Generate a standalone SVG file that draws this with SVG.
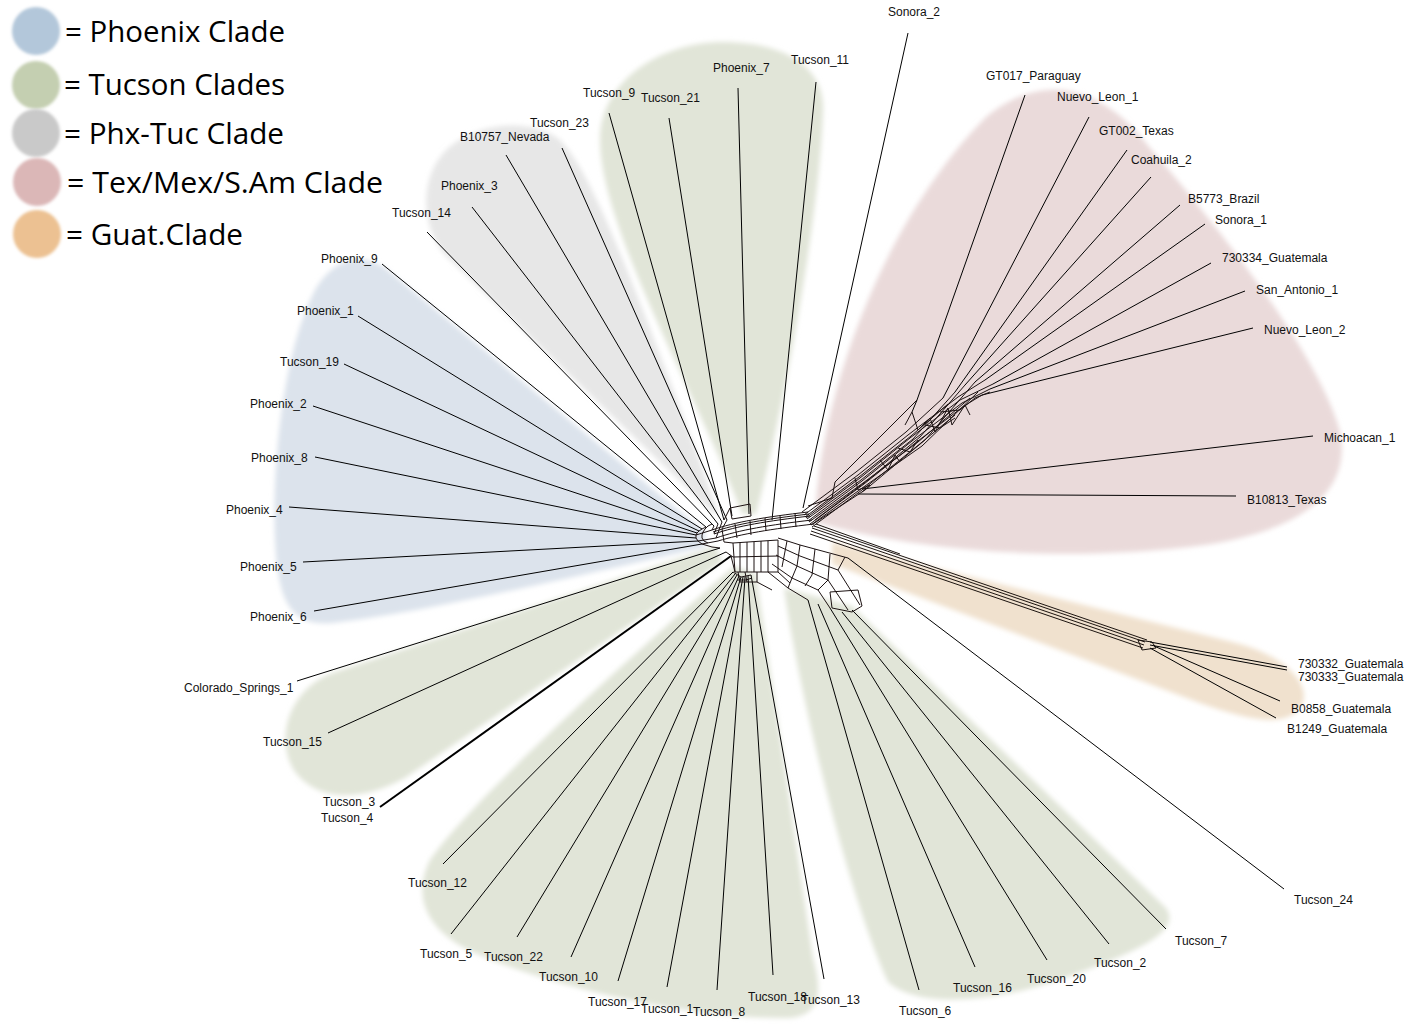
<svg xmlns="http://www.w3.org/2000/svg" width="1424" height="1024" viewBox="0 0 1424 1024">
<defs>
<filter id="soft" x="-10%" y="-10%" width="120%" height="120%"><feGaussianBlur stdDeviation="2.5"/></filter>
<filter id="softc" x="-20%" y="-20%" width="140%" height="140%"><feGaussianBlur stdDeviation="1.5"/></filter>
<style>
.lbl{font-family:"Liberation Sans",Arial,sans-serif;font-size:12px;fill:#111}
.leg{font-family:"Open Sans","Noto Sans",sans-serif;font-size:29px;fill:#000}
.leaf{stroke:#000;stroke-width:1;fill:none}
.net{stroke:#1c1212;stroke-width:1;fill:none}
.gua{stroke:#1c1410;stroke-width:1;fill:none}
</style>
</defs>
<rect width="1424" height="1024" fill="#fff"/>

<g id="clades" filter="url(#soft)">
<path id="blob-phx-tuc" fill="#e7e7e7" d="M715,515 L445,255 C418,222 420,170 452,145 C482,122 532,118 560,140 C588,168 625,255 718,512 Z"/>
<path id="blob-tucson-top" fill="#e1e5d8" d="M742,514 C705,410 600,230 600,140 C600,80 662,42 722,42 C792,42 826,72 823,112 C820,210 786,400 756,514 Z"/>
<path id="blob-phoenix" fill="#dce3ec" d="M705,532 L385,268 C358,250 330,262 314,292 C282,355 272,470 275,540 C278,605 292,626 332,623 C410,615 560,580 705,547 Z"/>
<path id="blob-tex" fill="#eadada" d="M815,522 C818,410 875,230 985,118 C1045,68 1105,88 1150,148 C1230,240 1322,362 1340,432 C1352,492 1302,530 1205,545 C1050,565 905,548 815,522 Z"/>
<path id="blob-guat" fill="#f0e1ce" d="M832,542 L1232,642 C1298,658 1320,698 1292,715 C1272,726 1240,717 1200,703 L832,564 Z"/>
<path id="blob-tucson-left" fill="#e1e5d8" d="M716,546 L332,673 C288,690 274,740 295,772 C320,804 365,800 405,778 L722,562 Z"/>
<path id="blob-tucson-bottom" fill="#e1e5d8" d="M734,566 C650,640 472,798 430,860 C410,900 430,936 482,956 C562,990 700,1020 790,1018 C822,1015 822,990 813,958 L756,574 Z"/>
<path id="blob-tucson-br" fill="#e1e5d8" d="M784,588 C800,700 850,900 888,982 C920,1010 1000,1002 1070,976 C1142,950 1182,930 1166,908 L852,606 Z"/>
</g>

<g id="legend">
<g id="legend-phoenix"><circle cx="36" cy="31" r="24" fill="#b3c7da" filter="url(#softc)"/><text class="leg" x="65" y="42" textLength="220" lengthAdjust="spacingAndGlyphs">= Phoenix Clade</text></g>
<g id="legend-tucson"><circle cx="36" cy="85" r="24" fill="#c4cfb1" filter="url(#softc)"/><text class="leg" x="64" y="95" textLength="221" lengthAdjust="spacingAndGlyphs">= Tucson Clades</text></g>
<g id="legend-phxtuc"><circle cx="36" cy="133" r="24" fill="#c9c9c9" filter="url(#softc)"/><text class="leg" x="64" y="144" textLength="220" lengthAdjust="spacingAndGlyphs">= Phx-Tuc Clade</text></g>
<g id="legend-tex"><circle cx="37" cy="182" r="24" fill="#dbb7b7" filter="url(#softc)"/><text class="leg" x="67" y="193" textLength="316" lengthAdjust="spacingAndGlyphs">= Tex/Mex/S.Am Clade</text></g>
<g id="legend-guat"><circle cx="37" cy="234" r="24" fill="#ecc192" filter="url(#softc)"/><text class="leg" x="66" y="245" textLength="177" lengthAdjust="spacingAndGlyphs">= Guat.Clade</text></g>
</g>

<g id="connectors">
<!-- top -->
<path class="leaf" d="M908,33 L803,508"/>
<path class="leaf" d="M816,82 L772,520"/>
<path class="leaf" d="M738,88 L749,514"/>
<path class="leaf" d="M669,118 L732,516"/>
<path class="leaf" d="M609,113 L724,520"/>
<path class="leaf" d="M562,148 L727,520"/>
<path class="leaf" d="M506,155 L722,522"/>
<path class="leaf" d="M472,207 L718,524"/>
<path class="leaf" d="M427,232 L714,526"/>
<!-- left phoenix -->
<path class="leaf" d="M382,264 L706,527"/>
<path class="leaf" d="M358,316 L702,529"/>
<path class="leaf" d="M344,364 L699,531"/>
<path class="leaf" d="M313,406 L697,533"/>
<path class="leaf" d="M315,457 L696,535"/>
<path class="leaf" d="M289,507 L696,538"/>
<path class="leaf" d="M303,562 L698,541"/>
<path class="leaf" d="M314,611 L702,544"/>
<!-- lower left -->
<path class="leaf" d="M297,681 L720,548"/>
<path class="leaf" d="M328,733 L726,552"/>
<path class="leaf" d="M380,807 L731,556" style="stroke-width:2"/>
<!-- bottom -->
<path class="leaf" d="M443,864 L733,572"/>
<path class="leaf" d="M451,934 L735,574"/>
<path class="leaf" d="M517,937 L737,575"/>
<path class="leaf" d="M571,957 L739,576"/>
<path class="leaf" d="M618,981 L741,577"/>
<path class="leaf" d="M667,987 L743,577"/>
<path class="leaf" d="M717,990 L745,577"/>
<path class="leaf" d="M773,975 L748,576"/>
<path class="leaf" d="M824,979 L751,575"/>
<!-- bottom right -->
<path class="leaf" d="M919,990 L808,600"/>
<path class="leaf" d="M975,967 L818,604"/>
<path class="leaf" d="M1047,960 L830,608"/>
<path class="leaf" d="M1109,944 L842,612"/>
<path class="leaf" d="M1166,929 L852,610"/>
<path class="leaf" d="M1284,889 L848,558"/>
<!-- guat -->
<path class="gua" d="M812,528 L1145,642"/>
<path class="gua" d="M811,531 L1144,645"/>
<path class="gua" d="M810,534 L1143,648"/>
<path class="gua" d="M814,526 L1147,640"/>
<path class="gua" d="M816,524 L900,554"/>
<path class="gua" d="M1138,640 L1152,642 L1156,648 L1142,650 Z"/>
<path class="leaf" d="M1150,642 L1287,667"/>
<path class="leaf" d="M1150,645 L1287,670"/>
<path class="leaf" d="M1154,646 L1280,701"/>
<path class="leaf" d="M1150,648 L1276,718"/>
<!-- tex/mex -->
<path class="leaf" d="M1236,496 L858,494"/>
<path class="leaf" d="M1313,436 L862,489"/>
<path class="leaf" d="M1253,328 L982,395"/>
<path class="leaf" d="M1245,291 L990,389"/>
<path class="leaf" d="M1211,263 L993,384"/>
<path class="leaf" d="M1205,224 L985,380"/>
<path class="leaf" d="M1180,205 L975,382"/>
<path class="leaf" d="M1151,177 L965,385"/>
<path class="leaf" d="M1127,150 L955,392"/>
<path class="leaf" d="M1089,117 L943,398"/>
<path class="leaf" d="M1025,95 L917,400 L912,412"/>
<path class="net" d="M917,400 L835,482 L832,498 L808,506"/>

<g id="network">
<!-- pink spine -->
<path class="net" d="M806,518 L860,478 L910,438 L960,400 L993,384"/>
<path class="net" d="M808,521 L862,481 L912,441 L962,403 L990,389"/>
<path class="net" d="M810,524 L864,484 L914,444 L964,406 L982,395"/>
<path class="net" d="M812,527 L866,487 L916,447 L955,415"/>
<path class="net" d="M804,515 L858,475 L908,435 L958,397 L985,380"/>
<path class="net" d="M802,512 L856,472 L906,432 L943,398"/>
<path class="net" d="M815,520 L868,480 L920,437 L965,385"/>
<path class="net" d="M813,524 L865,490 L925,440 L975,382"/>
<path class="net" d="M807,519 L861,480 L913,439 L955,392"/>
<path class="net" d="M809,522 L863,483 L918,442 L970,398"/>
<path class="net" d="M811,525 L865,486 L922,446 L978,392"/>
<path class="net" d="M805,517 L859,477 L911,436 L948,404"/>
<path class="net" d="M905,425 L912,412 L918,430 L930,418 L935,432 L948,408 L952,425 L965,405 L970,415"/>
<path class="net" d="M855,478 L858,490 L870,485 L862,492"/>
<path class="net" d="M880,460 L888,470 L895,455 L900,462"/>
<path class="net" d="M940,412 L960,410 L975,398 L990,392"/>
<path class="net" d="M925,425 L940,428 L955,418 M898,448 L910,452 L918,440"/>
<!-- central arc -->
<path class="net" d="M712,530 C735,522 765,517 808,512"/>
<path class="net" d="M714,534 C737,526 767,521 810,516"/>
<path class="net" d="M716,538 C739,530 769,525 812,520"/>
<path class="net" d="M718,541 C741,534 771,529 814,524"/>
<path class="net" d="M713,532 C736,524 766,519 809,514"/>
<path class="net" d="M722,529 L724,542 M735,524 L737,538 M750,521 L751,535 M765,518 L766,531 M780,516 L781,529 M795,513 L796,527"/>
<!-- top small box -->
<path class="net" d="M730,508 L750,504 L751,516 L732,519 Z"/>
<path class="net" d="M724,520 L730,508"/>
<!-- box under arc -->
<path class="net" d="M733,543 L778,540 L778,572 L735,572 Z"/>
<path class="net" d="M733,557 L778,556"/>
<path class="net" d="M740,543 L740,572 M747,542 L747,572 M754,542 L754,572 M761,541 L761,572 M768,541 L768,572"/>
<path class="net" d="M738,572 L740,582 L757,582 L757,572 M745,572 L747,582"/>
<path class="net" d="M724,542 L733,543 M726,552 L733,557 M731,556 L735,572"/>
<!-- left hub mesh -->
<path class="net" d="M706,527 L702,529 L699,531 L697,533 L696,535 L696,538 L698,541 L702,544 L712,547 L720,548"/>
<path class="net" d="M712,524 L708,526 L705,529 L703,532 L702,535 L702,538 L704,541 L708,543"/>
<path class="net" d="M714,526 L712,530 M718,524 L714,534 M722,522 L716,538 M727,520 L722,529"/>
<path class="net" d="M702,544 L718,541 M698,541 L716,538 M696,535 L712,530"/>
<!-- bottom bundle -->
<path class="net" d="M733,572 L741,577 L751,575"/>
<path class="net" d="M737,580 L746,580 L752,578"/>
<!-- right-down ladder -->
<path class="net" d="M778,538 L800,545 L848,558"/>
<path class="net" d="M778,546 L800,556 L838,570 L860,605"/>
<path class="net" d="M776,555 L797,566 L828,580 L848,610"/>
<path class="net" d="M772,564 L792,578 L818,590 L830,608"/>
<path class="net" d="M768,572 L788,588 L808,600"/>
<path class="net" d="M787,541 L782,567 M800,545 L797,566 L792,578 L788,588 M815,549 L812,575 L805,586 M830,554 L828,580 L818,590 M845,557 L838,570"/>
<path class="net" d="M830,592 L858,590 L862,606 L852,612 L832,608 Z"/>
<path class="net" d="M778,572 L790,583 M757,582 L772,590"/>
</g>
</g>

<g id="nodes">
<g id="n-sonora2"><text class="lbl" x="888" y="16">Sonora_2</text></g>
<g id="n-tucson11"><text class="lbl" x="791" y="64">Tucson_11</text></g>
<g id="n-phoenix7"><text class="lbl" x="713" y="72">Phoenix_7</text></g>
<g id="n-tucson9"><text class="lbl" x="583" y="97">Tucson_9</text></g>
<g id="n-tucson21"><text class="lbl" x="641" y="102">Tucson_21</text></g>
<g id="n-tucson23"><text class="lbl" x="530" y="127">Tucson_23</text></g>
<g id="n-b10757"><text class="lbl" x="460" y="141">B10757_Nevada</text></g>
<g id="n-phoenix3"><text class="lbl" x="441" y="190">Phoenix_3</text></g>
<g id="n-tucson14"><text class="lbl" x="392" y="217">Tucson_14</text></g>
<g id="n-gt017"><text class="lbl" x="986" y="80">GT017_Paraguay</text></g>
<g id="n-nuevoleon1"><text class="lbl" x="1057" y="101">Nuevo_Leon_1</text></g>
<g id="n-gt002"><text class="lbl" x="1099" y="135">GT002_Texas</text></g>
<g id="n-coahuila2"><text class="lbl" x="1131" y="164">Coahuila_2</text></g>
<g id="n-b5773"><text class="lbl" x="1188" y="203">B5773_Brazil</text></g>
<g id="n-sonora1"><text class="lbl" x="1215" y="224">Sonora_1</text></g>
<g id="n-730334"><text class="lbl" x="1222" y="262">730334_Guatemala</text></g>
<g id="n-sanantonio1"><text class="lbl" x="1256" y="294">San_Antonio_1</text></g>
<g id="n-nuevoleon2"><text class="lbl" x="1264" y="334">Nuevo_Leon_2</text></g>
<g id="n-michoacan1"><text class="lbl" x="1324" y="442">Michoacan_1</text></g>
<g id="n-b10813"><text class="lbl" x="1247" y="504">B10813_Texas</text></g>
<g id="n-730332"><text class="lbl" x="1298" y="668">730332_Guatemala</text></g>
<g id="n-730333"><text class="lbl" x="1298" y="681">730333_Guatemala</text></g>
<g id="n-b0858"><text class="lbl" x="1291" y="713">B0858_Guatemala</text></g>
<g id="n-b1249"><text class="lbl" x="1287" y="733">B1249_Guatemala</text></g>
<g id="n-tucson24"><text class="lbl" x="1294" y="904">Tucson_24</text></g>
<g id="n-tucson7"><text class="lbl" x="1175" y="945">Tucson_7</text></g>
<g id="n-tucson2"><text class="lbl" x="1094" y="967">Tucson_2</text></g>
<g id="n-tucson20"><text class="lbl" x="1027" y="983">Tucson_20</text></g>
<g id="n-tucson16"><text class="lbl" x="953" y="992">Tucson_16</text></g>
<g id="n-tucson6"><text class="lbl" x="899" y="1015">Tucson_6</text></g>
<g id="n-tucson18"><text class="lbl" x="748" y="1001">Tucson_18</text></g>
<g id="n-tucson13"><text class="lbl" x="801" y="1004">Tucson_13</text></g>
<g id="n-tucson17"><text class="lbl" x="588" y="1006">Tucson_17</text></g>
<g id="n-tucson1"><text class="lbl" x="641" y="1013">Tucson_1</text></g>
<g id="n-tucson8"><text class="lbl" x="693" y="1016">Tucson_8</text></g>
<g id="n-tucson10"><text class="lbl" x="539" y="981">Tucson_10</text></g>
<g id="n-tucson22"><text class="lbl" x="484" y="961">Tucson_22</text></g>
<g id="n-tucson5"><text class="lbl" x="420" y="958">Tucson_5</text></g>
<g id="n-tucson12"><text class="lbl" x="408" y="887">Tucson_12</text></g>
<g id="n-tucson3"><text class="lbl" x="323" y="806">Tucson_3</text></g>
<g id="n-tucson4"><text class="lbl" x="321" y="822">Tucson_4</text></g>
<g id="n-tucson15"><text class="lbl" x="263" y="746">Tucson_15</text></g>
<g id="n-colorado"><text class="lbl" x="184" y="692">Colorado_Springs_1</text></g>
<g id="n-phoenix6"><text class="lbl" x="250" y="621">Phoenix_6</text></g>
<g id="n-phoenix5"><text class="lbl" x="240" y="571">Phoenix_5</text></g>
<g id="n-phoenix4"><text class="lbl" x="226" y="514">Phoenix_4</text></g>
<g id="n-phoenix8"><text class="lbl" x="251" y="462">Phoenix_8</text></g>
<g id="n-phoenix2"><text class="lbl" x="250" y="408">Phoenix_2</text></g>
<g id="n-tucson19"><text class="lbl" x="280" y="366">Tucson_19</text></g>
<g id="n-phoenix1"><text class="lbl" x="297" y="315">Phoenix_1</text></g>
<g id="n-phoenix9"><text class="lbl" x="321" y="263">Phoenix_9</text></g>
</g>
</svg>
